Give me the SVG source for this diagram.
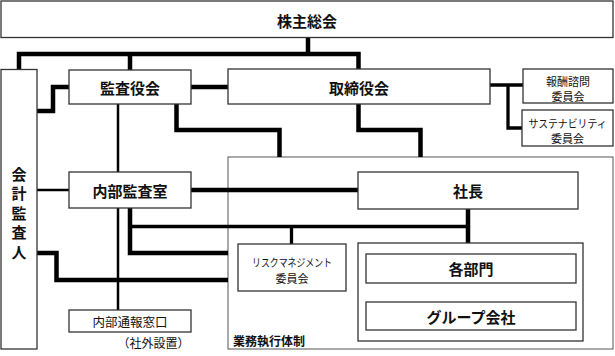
<svg xmlns="http://www.w3.org/2000/svg" width="615" height="356" viewBox="0 0 615 356">
<style>
  .box { fill: #fff; stroke: #333; stroke-width: 1.3; }
  .frame { fill: none; stroke: #555; stroke-width: 1; }
  .t { font-family: "Noto Sans CJK JP", "Noto Sans", sans-serif; fill: #111; text-anchor: middle; dominant-baseline: central; }
  .b { font-size: 15px; font-weight: 700; }
  .s { font-size: 11px; font-weight: 400; }
  .m { font-size: 12.5px; font-weight: 400; }
  .thick { fill: none; stroke: #000; stroke-width: 4.5; stroke-linejoin: miter; }
  .med { fill: none; stroke: #000; stroke-width: 3.3; stroke-linejoin: miter; }
  .thin { fill: none; stroke: #000; stroke-width: 2.5; }
</style>
<rect width="615" height="356" fill="#fff"/>

<g id="gyomu-frame">
  <rect class="frame" x="228" y="157" width="385" height="192"/>
  <text class="t" x="233" y="340" style="font-size:12px;font-weight:700;text-anchor:start">業務執行体制</text>
</g>

<g id="connectors">
  <path class="thick" d="M308 37 V54"/>
  <path class="thick" d="M19 70 V54 H358.5 V69"/>
  <path class="thick" d="M130 54 V70"/>
  <path class="thick" d="M37 111 H53 V87 H69"/>
  <path class="thick" d="M191 87 H228"/>
  <path class="thick" d="M176.5 104 V130 H279.5 V157"/>
  <path class="thick" d="M358.5 104 V130 H420.5 V157"/>
  <path class="thick" d="M191 190 H358"/>
  <path class="thick" d="M130 208 V253 H228"/>
  <path class="thick" d="M37 253 H56.5 V280 H228"/>
  <path class="thick" d="M468 209 V243"/>
  <path class="med" d="M490 85 H523"/>
  <path class="med" d="M508 85 V128 H522"/>
  <path class="med" d="M130 226.5 H468"/>
  <path class="med" d="M291.5 226.5 V244"/>
  <path class="thin" d="M118 104 V310"/>
  <path class="thin" d="M37 190 H69"/>
</g>

<g id="kabunushi">
  <rect class="box" x="1" y="1" width="612" height="36.5"/>
  <text class="t b" x="307" y="20">株主総会</text>
</g>
<g id="kaikei">
  <rect class="box" x="1" y="69.5" width="36" height="279.5"/>
  <text class="t b" x="19" y="173">会</text>
  <text class="t b" x="19" y="192.5">計</text>
  <text class="t b" x="19" y="212">監</text>
  <text class="t b" x="19" y="231.5">査</text>
  <text class="t b" x="19" y="251">人</text>
</g>
<g id="kansayaku">
  <rect class="box" x="69" y="70" width="122" height="34"/>
  <text class="t b" x="130" y="87">監査役会</text>
</g>
<g id="torishimariyaku">
  <rect class="box" x="228" y="69" width="262" height="35"/>
  <text class="t b" x="359" y="87">取締役会</text>
</g>
<g id="hoshu">
  <rect class="box" x="523" y="69" width="90" height="34"/>
  <text class="t s" x="568" y="80.5">報酬諮問</text>
  <text class="t s" x="568" y="95.5">委員会</text>
</g>
<g id="sustainability">
  <rect class="box" x="522" y="110" width="91" height="36"/>
  <text class="t s" x="567.5" y="122.5" textLength="78" lengthAdjust="spacingAndGlyphs">サステナビリティ</text>
  <text class="t s" x="567.5" y="138">委員会</text>
</g>
<g id="naibukansa">
  <rect class="box" x="69" y="172" width="122" height="36"/>
  <text class="t b" x="130" y="190">内部監査室</text>
</g>
<g id="shacho">
  <rect class="box" x="358" y="172" width="220" height="37"/>
  <text class="t b" x="468" y="190.5">社長</text>
</g>
<g id="risk">
  <rect class="box" x="238" y="244" width="108" height="47"/>
  <text class="t s" x="292" y="262" textLength="80" lengthAdjust="spacingAndGlyphs">リスクマネジメント</text>
  <text class="t s" x="292" y="277.5">委員会</text>
</g>
<g id="bumon-group">
  <rect class="box" x="358" y="243" width="225" height="98"/>
</g>
<g id="kakubumon">
  <rect class="box" x="366" y="254" width="210" height="29"/>
  <text class="t b" x="471" y="268.5">各部門</text>
</g>
<g id="group">
  <rect class="box" x="366" y="302" width="210" height="28"/>
  <text class="t b" x="471" y="316">グループ会社</text>
</g>
<g id="naibutsuho">
  <rect class="box" x="69" y="310" width="122" height="22"/>
  <text class="t m" x="130" y="321">内部通報窓口</text>
  <text class="t" x="153.5" y="342" style="font-size:12px">（社外設置）</text>
</g>
</svg>
